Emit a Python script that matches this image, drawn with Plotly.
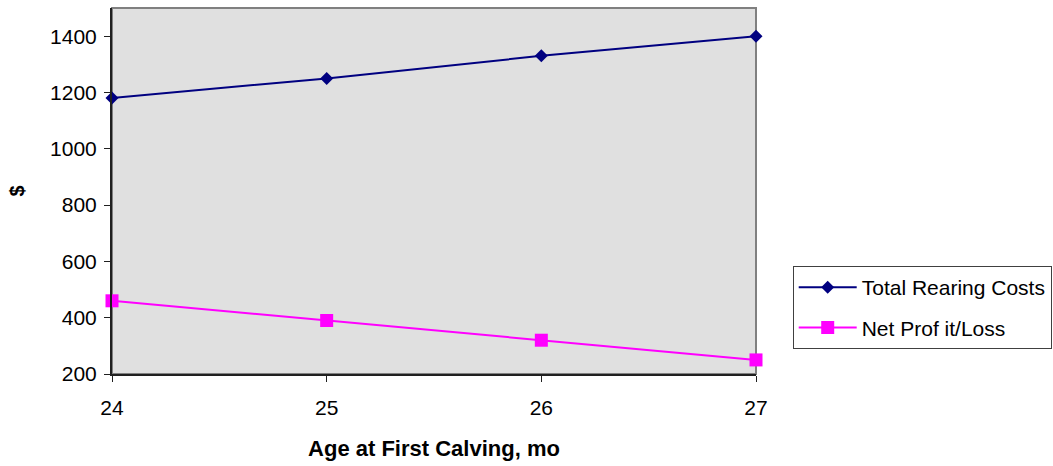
import plotly.graph_objects as go

ages = [24, 25, 26, 27]
total_rearing_costs = [1180, 1250, 1330, 1400]
net_profit_loss = [460, 390, 320, 250]
y_ticks = [200, 400, 600, 800, 1000, 1200, 1400]

FONT = "Liberation Sans, Arial, sans-serif"

fig = go.Figure()
fig.add_trace(go.Scatter(
    x=ages, y=total_rearing_costs, name="Total Rearing Costs",
    mode="lines+markers", legendgroup="a", cliponaxis=False,
    line=dict(color="#000080", width=2),
    marker=dict(symbol="diamond", size=10, color="#000080"),
))
fig.add_trace(go.Scatter(
    x=ages, y=net_profit_loss, name="Net Prof it/Loss",
    mode="lines+markers", legendgroup="b", cliponaxis=False,
    line=dict(color="#FF00FF", width=2),
    marker=dict(symbol="square", size=13, color="#FF00FF"),
))

fig.update_layout(
    width=1053, height=466,
    margin=dict(l=112, r=297, t=8, b=92, autoexpand=False),
    paper_bgcolor="white",
    plot_bgcolor="#E0E0E0",
    font=dict(family=FONT, color="black", size=20),
    showlegend=True,
    legend=dict(
        x=1.057, y=0.295, xanchor="left", yanchor="top",
        bgcolor="white", bordercolor="#404040", borderwidth=1,
        font=dict(family=FONT, size=21, color="black"),
        tracegroupgap=10, itemwidth=58,
    ),
    shapes=[dict(type="rect", xref="paper", yref="paper", x0=0, y0=0, x1=1, y1=1,
                 line=dict(color="#808080", width=2), layer="below")],
)

fig.update_xaxes(
    range=[24, 27], tickvals=ages, ticktext=[str(a) for a in ages],
    showgrid=False, zeroline=False, automargin=False,
    showline=True, linecolor="#202020", linewidth=2,
    ticks="outside", ticklen=6, tickcolor="#202020", tickwidth=1,
    tickfont=dict(family=FONT, size=21, color="black"),
    ticklabelstandoff=8,
    title=dict(text="<b>Age at First Calving, mo</b>", standoff=22,
               font=dict(family=FONT, size=22, color="black")),
)
fig.update_yaxes(
    range=[200, 1500], tickvals=y_ticks,
    showgrid=False, zeroline=False, automargin=False,
    showline=True, linecolor="#202020", linewidth=2,
    ticks="outside", ticklen=6, tickcolor="#202020", tickwidth=1,
    tickfont=dict(family=FONT, size=21, color="black"),
    ticklabelstandoff=3,
    title=dict(text="<b>$</b>", standoff=20,
               font=dict(family=FONT, size=20, color="black")),
)

fig.write_html("out.html")
